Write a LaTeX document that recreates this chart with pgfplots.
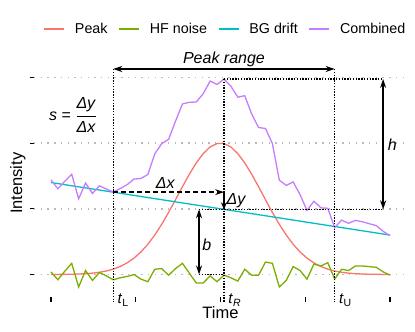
\documentclass[border=0pt]{standalone}
\usepackage{pgfplots}
\usepackage{pgfplotstable}
\pgfplotsset{compat=1.18}
\usetikzlibrary{arrows.meta}
\usepackage{fontspec}
\setmainfont{Liberation Sans}
\definecolor{peakc}{HTML}{F8766D}
\definecolor{noisec}{HTML}{7CAE00}
\definecolor{driftc}{HTML}{00BFC4}
\definecolor{combc}{HTML}{C77CFF}
\pgfplotstableread{
k peak noise drift comb
0 0.0007 0.04 1.4000 1.441
1 0.0013 -0.08 1.3837 1.305
2 0.0024 0.05 1.3673 1.420
3 0.0042 0.17 1.3510 1.525
4 0.0074 -0.19 1.3347 1.152
5 0.0126 0.06 1.3184 1.391
6 0.0209 -0.09 1.3020 1.233
7 0.0338 0.03 1.2857 1.350
8 0.0531 -0.02 1.2694 1.302
9 0.0814 -0.08 1.2531 1.254
10 0.1214 -0.05 1.2367 1.308
11 0.1763 -0.03 1.2204 1.367
12 0.2493 0.00 1.2041 1.453
13 0.3432 -0.07 1.1878 1.461
14 0.4602 -0.11 1.1714 1.522
15 0.6007 0.08 1.1551 1.836
16 0.7635 0.09 1.1388 1.992
17 0.9450 -0.01 1.1224 2.057
18 1.1388 0.09 1.1061 2.335
19 1.3364 0.17 1.0898 2.596
20 1.5270 0.02 1.0735 2.621
21 1.6987 -0.13 1.0571 2.626
22 1.8402 -0.13 1.0408 2.751
23 1.9409 -0.02 1.0245 2.945
24 1.9933 -0.11 1.0082 2.892
25 1.9933 -0.01 0.9918 2.975
26 1.9409 -0.05 0.9755 2.866
27 1.8402 -0.10 0.9592 2.699
28 1.6987 0.08 0.9429 2.722
29 1.5270 -0.01 0.9265 2.444
30 1.3364 -0.01 0.9102 2.237
31 1.1388 0.19 0.8939 2.223
32 0.9450 0.17 0.8776 1.993
33 0.7635 -0.19 0.8612 1.435
34 0.6007 -0.09 0.8449 1.356
35 0.4602 0.12 0.8286 1.409
36 0.3432 0.06 0.8122 1.215
37 0.2493 -0.07 0.7959 0.975
38 0.1763 0.16 0.7796 1.116
39 0.1214 0.13 0.7633 1.015
40 0.0814 0.18 0.7469 1.008
41 0.0531 -0.07 0.7306 0.714
42 0.0338 0.08 0.7143 0.828
43 0.0209 0.06 0.6980 0.779
44 0.0126 0.13 0.6816 0.824
45 0.0074 0.13 0.6653 0.803
46 0.0042 0.12 0.6490 0.773
47 0.0024 0.11 0.6327 0.745
48 0.0013 0.04 0.6163 0.658
49 0.0007 -0.01 0.6000 0.591
}\datatable
\begin{document}
\begin{tikzpicture}
\path[use as bounding box] (0,0) rectangle (415pt,332pt);
\begin{axis}[
  at={(34pt,34.5pt)}, anchor=south west,
  scale only axis, width=373pt, height=228.5pt,
  xmin=-2.45, xmax=51.45, ymin=-0.35, ymax=3.128,
  axis lines*=left,
  axis line style={draw=none},
  xtick={0,12.25,24.5,36.75,49},
  ytick={0,1,2,3},
  xticklabels={}, yticklabels={},
  tick align=outside,
  major tick length=4.5pt,
  tick style={black, line width=1.2pt},
  ymajorgrids=true,
  grid style={gray!55, line width=1.4pt, dash pattern=on 1.4pt off 5.3pt},
  clip=false,
  font=\fontsize{16.5}{19}\selectfont,
  xlabel={Time}, ylabel={Intensity},
  xlabel style={at={(axis description cs:0.5,-0.066)}, anchor=center},
  ylabel style={at={(axis description cs:-0.043,0.5)}, anchor=center},
  legend columns=-1,
  legend style={at={(rel axis cs:0.5134,1.175)}, anchor=center, draw=none, fill=none,
    font=\fontsize{14.3}{16}\selectfont,
    /tikz/every even column/.append style={column sep=9pt}},
  legend image code/.code={\draw[#1] (0pt,0pt) -- (20pt,0pt); \path (28pt,0pt);},
]
\addplot[peakc, line width=1.3pt] table[x=k, y=peak] {\datatable};
\addlegendentry{Peak}
\addplot[noisec, line width=1.3pt] table[x=k, y=noise] {\datatable};
\addlegendentry{HF noise}
\addplot[driftc, line width=1.3pt] table[x=k, y=drift] {\datatable};
\addlegendentry{BG drift}
\addplot[combc, line width=1.3pt] table[x=k, y=comb] {\datatable};
\addlegendentry{Combined}

% annotations
\begin{scope}[line width=1.4pt, dash pattern=on 1.4pt off 1.4pt, black]
\draw (axis cs:9,3.128) -- (axis cs:9,-0.42);
\draw (axis cs:41,3.128) -- (axis cs:41,-0.42);
\draw (axis cs:25,2.975) -- (axis cs:25,-0.42);
\draw (axis cs:25,2.975) -- (axis cs:48,2.975);
\draw (axis cs:21.4,0.9918) -- (axis cs:48,0.9918);
\draw (axis cs:21.4,0) -- (axis cs:25,0);
\end{scope}
\draw[black, line width=1.3pt, {Stealth[length=9pt,width=6pt]}-{Stealth[length=9pt,width=6pt]}] (axis cs:9,3.128) -- (axis cs:41,3.128);
\node[anchor=south, inner sep=1.5pt, font=\fontsize{16}{19}\selectfont\itshape] at (axis cs:25,3.128) {Peak range};
\draw[black, line width=1.3pt, {Stealth[length=9pt,width=6pt]}-{Stealth[length=9pt,width=6pt]}] (axis cs:48,2.975) -- (axis cs:48,0.9918);
\node[anchor=west, inner sep=1pt, font=\fontsize{16}{19}\selectfont\itshape] at (axis cs:48.5,1.98) {h};
\draw[black, line width=1.3pt, {Stealth[length=9pt,width=6pt]}-{Stealth[length=9pt,width=6pt]}] (axis cs:21.4,0) -- (axis cs:21.4,0.9918);
\node[anchor=west, inner sep=1pt, font=\fontsize{16}{19}\selectfont\itshape] at (axis cs:21.7,0.45) {b};
\draw[black, line width=1.3pt, dash pattern=on 5pt off 3pt, -{Stealth[length=9pt,width=6pt]}] (axis cs:9,1.254) -- (axis cs:25,1.254);
\node[font=\fontsize{16}{19}\selectfont\itshape] at (axis cs:16.5,1.39) {Δx};
\draw[black, line width=1.3pt, -{Stealth[length=7pt,width=6pt]}] (axis cs:25,1.254) -- (axis cs:25,0.9918);
\node[anchor=west, inner sep=1pt, font=\fontsize{16}{19}\selectfont\itshape] at (axis cs:25.2,1.12) {Δy};
\node[anchor=west, inner sep=0pt, font=\fontsize{16}{19}\selectfont] at (axis cs:-0.3,2.43) {\textit{s} = $\displaystyle\frac{\mbox{\textit{Δy}}}{\mbox{\textit{Δx}}}$};
\node[anchor=west, inner sep=0pt, font=\fontsize{15}{18}\selectfont] at (axis cs:9.6,-0.39) {\textit{t}\textsubscript{L}};
\node[anchor=west, inner sep=0pt, font=\fontsize{15}{18}\selectfont] at (axis cs:25.6,-0.39) {\textit{t}\textsubscript{\textit{R}}};
\node[anchor=west, inner sep=0pt, font=\fontsize{15}{18}\selectfont] at (axis cs:41.6,-0.39) {\textit{t}\textsubscript{U}};
\end{axis}
\end{tikzpicture}
\end{document}
